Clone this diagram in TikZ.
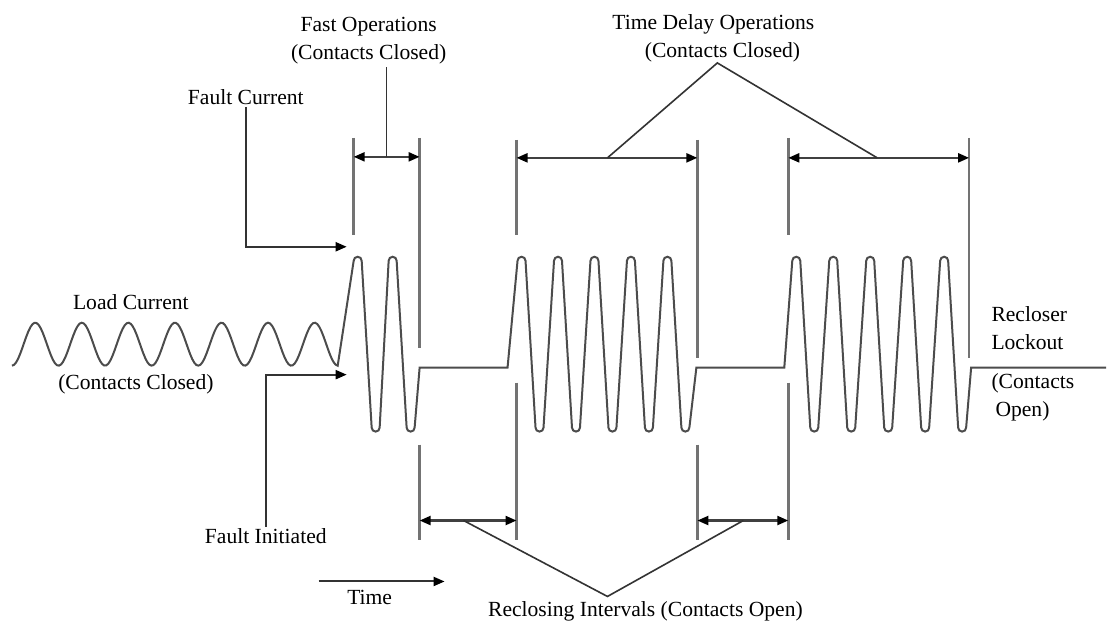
\documentclass[tikz,border=0pt]{standalone}
\usepackage{fontspec}
\setmainfont{Liberation Serif}
\usetikzlibrary{arrows.meta}

\begin{document}
\begin{tikzpicture}[x=0.5pt, y=-0.5pt, every node/.style={font=\fontsize{10.8}{14}\selectfont, inner sep=1pt, align=center}, wave/.style={black!70, line width=1pt}, tick/.style={black!55, line width=1.3pt}, span/.style={black!75, line width=1.1pt, {Triangle[length=5.5pt,width=4.5pt,color=black]}-{Triangle[length=5.5pt,width=4.5pt,color=black]}}, leader/.style={black!80, line width=0.8pt}, pointer/.style={black!80, line width=1pt, -{Triangle[length=5.5pt,width=4.5pt,color=black]}}]
	\fill[white] (0,0) rectangle (1107,624);
	% current trace: load, fast shots, two delayed shots, lockout
	\draw[wave] plot[domain=12:338, samples=160] (\x, {344.5+21.5*cos(7.7253*(\x-12))})
		\foreach \p in {358,393} { -- (\p-4,261) arc[start angle=180, end angle=360, radius=4] -- (\p+14,428) arc[start angle=180, end angle=0, radius=4] }
		-- (420,368) -- (508,368)
		\foreach \p in {522,558.5,595,631.5,668} { -- (\p-4,261) arc[start angle=180, end angle=360, radius=4] -- (\p+14,428) arc[start angle=180, end angle=0, radius=4] }
		-- (697,368) -- (785,368)
		\foreach \p in {797,834,871,908,945} { -- (\p-4,261) arc[start angle=180, end angle=360, radius=4] -- (\p+14,428) arc[start angle=180, end angle=0, radius=4] }
		-- (972,368) -- (1107,368);
	\foreach \x/\a/\b in {354/138/235, 420/138/348, 420/445/540, 517/140/235, 517/383/540, 698/140/358, 698/445/540, 789/138/235, 789/383/540, 970/138/358}
		\draw[tick] (\x,\a) -- (\x,\b);
	\coordinate (fast-l) at (354,157);
	\coordinate (fast-r) at (420,157);
	\coordinate (fast-m) at (387,157);
	\coordinate (td1-l) at (517,158);
	\coordinate (td1-r) at (698,158);
	\coordinate (td1-m) at (608,158);
	\coordinate (td2-l) at (789,158);
	\coordinate (td2-r) at (970,158);
	\coordinate (td2-m) at (878,158);
	\coordinate (ri1-l) at (420,521);
	\coordinate (ri1-r) at (517,521);
	\coordinate (ri1-m) at (464,521);
	\coordinate (ri2-l) at (698,521);
	\coordinate (ri2-r) at (789,521);
	\coordinate (ri2-m) at (744,521);
	\coordinate (td-apex) at (718,63);
	\coordinate (ri-apex) at (608,597);
	\coordinate (fc-tip) at (347,247);
	\coordinate (fi-tip) at (347,375);
	\coordinate (time-l) at (319,582);
	\coordinate (time-r) at (445,582);
	\node (fastops) at (369,41) {Fast Operations\\(Contacts Closed)};
	\node[align=left] (tdops) at (714,38) {Time Delay Operations\\\hspace*{1.5em}(Contacts Closed)};
	\node (fcur) at (246,97) {Fault Current};
	\node (loadcur) at (131,302) {Load Current};
	\node (closed) at (136,385) {(Contacts Closed)};
	\node (finit) at (266,537) {Fault Initiated};
	\node (time) at (370,598) {Time};
	\node (reclosing) at (646,612) {Reclosing Intervals (Contacts Open)};
	\node[anchor=west, align=left] (lockout) at (990,328) {Recloser\\Lockout};
	\node[anchor=west, align=left] (open) at (990,398) {(Contacts\\\hspace*{2pt}Open)};
	\draw[span] (fast-l) -- (fast-r);
	\draw[span] (td1-l) -- (td1-r);
	\draw[span] (td2-l) -- (td2-r);
	\draw[span] (ri1-l) -- (ri1-r);
	\draw[span] (ri2-l) -- (ri2-r);
	\draw[leader] (fast-m) -- (fast-m |- fastops.south);
	\draw[leader] (td1-m) -- (td-apex) -- (td2-m);
	\draw[leader] (ri1-m) -- (ri-apex) -- (ri2-m);
	\draw[pointer] (fcur.south) |- (fc-tip);
	\draw[pointer] (finit.north) |- (fi-tip);
	\draw[pointer] (time-l) -- (time-r);
\end{tikzpicture}
\end{document}
